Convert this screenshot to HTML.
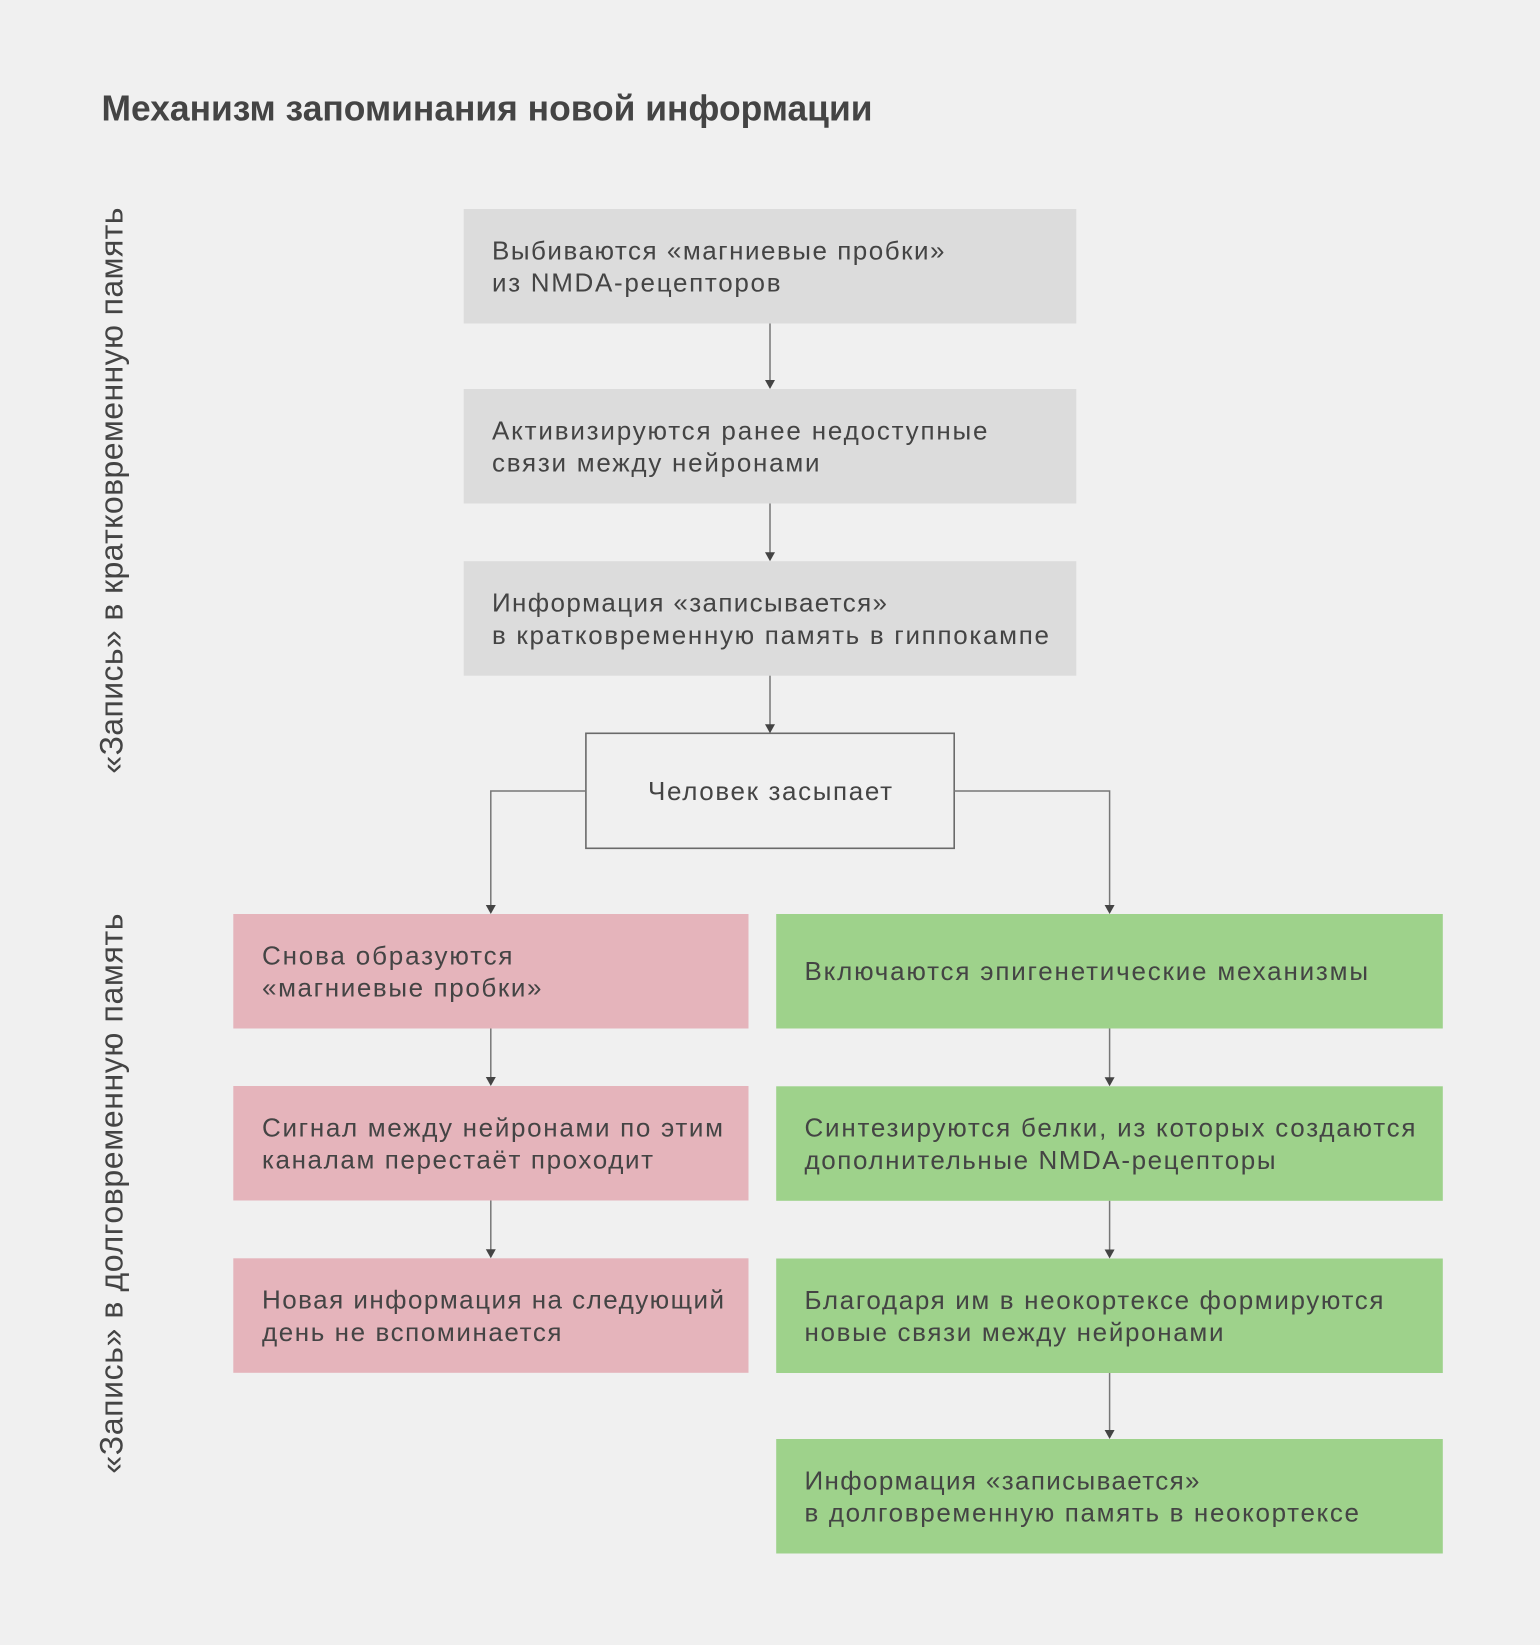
<!DOCTYPE html>
<html>
<head>
<meta charset="utf-8">
<style>
  html, body { margin: 0; padding: 0; background: #f0f0f0; }
  body { width: 1540px; height: 1645px; overflow: hidden; }
  svg { display: block; }
  text { font-family: "Liberation Sans", "Noto Sans CJK SC", sans-serif; fill: #444; }
  .t { font-size: 26px; }
  .v { font-size: 32px; }
</style>
</head>
<body>
<svg width="1540" height="1645" viewBox="0 0 1540 1645" xmlns="http://www.w3.org/2000/svg">
  <rect x="0" y="0" width="1540" height="1645" fill="#f0f0f0"/>

  <!-- Title -->
  <text x="101.5" y="120.7" font-size="36" font-weight="bold" textLength="771" lengthAdjust="spacingAndGlyphs">Механизм запоминания новой информации</text>

  <!-- Vertical labels -->
  <text class="v" transform="translate(122.5,773.6) rotate(-90)" textLength="566" lengthAdjust="spacing">«Запись» в кратковременную память</text>
  <text class="v" transform="translate(122.5,1473.6) rotate(-90)" textLength="560" lengthAdjust="spacing">«Запись» в долговременную память</text>

  <!-- Gray boxes -->
  <rect x="463.7" y="209" width="612.6" height="114.5" fill="#dcdcdc"/>
  <rect x="463.7" y="389" width="612.6" height="114.5" fill="#dcdcdc"/>
  <rect x="463.7" y="561.2" width="612.6" height="114.5" fill="#dcdcdc"/>

  <text class="t" x="492" y="259.3" textLength="452.5" lengthAdjust="spacing">Выбиваются «магниевые пробки»</text>
  <text class="t" x="492" y="291.7" textLength="288.5" lengthAdjust="spacing">из NMDA-рецепторов</text>

  <text class="t" x="492" y="439.3" textLength="495.5" lengthAdjust="spacing">Активизируются ранее недоступные</text>
  <text class="t" x="492" y="471.7" textLength="327.5" lengthAdjust="spacing">связи между нейронами</text>

  <text class="t" x="492" y="611.5" textLength="395" lengthAdjust="spacing">Информация «записывается»</text>
  <text class="t" x="492" y="643.9" textLength="557" lengthAdjust="spacing">в кратковременную память в гиппокампе</text>

  <!-- Outlined box -->
  <rect x="585.9" y="733.3" width="368.3" height="115" fill="none" stroke="#6a6a6a" stroke-width="1.6"/>
  <text class="t" x="770" y="800" text-anchor="middle" textLength="244" lengthAdjust="spacing">Человек засыпает</text>

  <!-- Pink boxes -->
  <rect x="233.3" y="914" width="515.2" height="114.5" fill="#e5b4bb"/>
  <rect x="233.3" y="1086" width="515.2" height="114.5" fill="#e5b4bb"/>
  <rect x="233.3" y="1258.3" width="515.2" height="114.5" fill="#e5b4bb"/>

  <text class="t" x="262" y="964.3" textLength="250.5" lengthAdjust="spacing">Снова образуются</text>
  <text class="t" x="262" y="996.7" textLength="279.5" lengthAdjust="spacing">«магниевые пробки»</text>

  <text class="t" x="262" y="1136.3" textLength="461" lengthAdjust="spacing">Сигнал между нейронами по этим</text>
  <text class="t" x="262" y="1168.7" textLength="391" lengthAdjust="spacing">каналам перестаёт проходит</text>

  <text class="t" x="262" y="1308.6" textLength="462" lengthAdjust="spacing">Новая информация на следующий</text>
  <text class="t" x="262" y="1341" textLength="299.5" lengthAdjust="spacing">день не вспоминается</text>

  <!-- Green boxes -->
  <rect x="776.2" y="914" width="666.6" height="114.5" fill="#9ed28b"/>
  <rect x="776.2" y="1086.3" width="666.6" height="114.5" fill="#9ed28b"/>
  <rect x="776.2" y="1258.5" width="666.6" height="114.5" fill="#9ed28b"/>
  <rect x="776.2" y="1439" width="666.6" height="114.5" fill="#9ed28b"/>

  <text class="t" x="804.5" y="980.2" textLength="563.5" lengthAdjust="spacing">Включаются эпигенетические механизмы</text>

  <text class="t" x="804.5" y="1136.6" textLength="611" lengthAdjust="spacing">Синтезируются белки, из которых создаются</text>
  <text class="t" x="804.5" y="1169" textLength="471" lengthAdjust="spacing">дополнительные NMDA-рецепторы</text>

  <text class="t" x="804.5" y="1308.8" textLength="579" lengthAdjust="spacing">Благодаря им в неокортексе формируются</text>
  <text class="t" x="804.5" y="1341.2" textLength="419" lengthAdjust="spacing">новые связи между нейронами</text>

  <text class="t" x="804.5" y="1489.3" textLength="395" lengthAdjust="spacing">Информация «записывается»</text>
  <text class="t" x="804.5" y="1521.7" textLength="554.5" lengthAdjust="spacing">в долговременную память в неокортексе</text>

  <!-- Connectors -->
  <g stroke="#777" stroke-width="1.5" fill="none">
    <line x1="770" y1="323.5" x2="770" y2="381"/>
    <line x1="770" y1="503.5" x2="770" y2="553"/>
    <line x1="770" y1="675.7" x2="770" y2="725"/>
    <polyline points="586,791 490.8,791 490.8,906"/>
    <polyline points="954.2,791 1109.6,791 1109.6,906"/>
    <line x1="490.8" y1="1028.5" x2="490.8" y2="1078"/>
    <line x1="490.8" y1="1200.5" x2="490.8" y2="1250"/>
    <line x1="1109.6" y1="1028.5" x2="1109.6" y2="1078"/>
    <line x1="1109.6" y1="1200.8" x2="1109.6" y2="1250"/>
    <line x1="1109.6" y1="1373" x2="1109.6" y2="1431"/>
  </g>
  <g fill="#444">
    <polygon points="770,389 765,380 775,380"/>
    <polygon points="770,561.2 765,552.2 775,552.2"/>
    <polygon points="770,733.3 765,724.3 775,724.3"/>
    <polygon points="490.8,914 485.8,905 495.8,905"/>
    <polygon points="1109.6,914 1104.6,905 1114.6,905"/>
    <polygon points="490.8,1086 485.8,1077 495.8,1077"/>
    <polygon points="490.8,1258.3 485.8,1249.3 495.8,1249.3"/>
    <polygon points="1109.6,1086.3 1104.6,1077.3 1114.6,1077.3"/>
    <polygon points="1109.6,1258.5 1104.6,1249.5 1114.6,1249.5"/>
    <polygon points="1109.6,1439 1104.6,1430 1114.6,1430"/>
  </g>
</svg>
</body>
</html>
